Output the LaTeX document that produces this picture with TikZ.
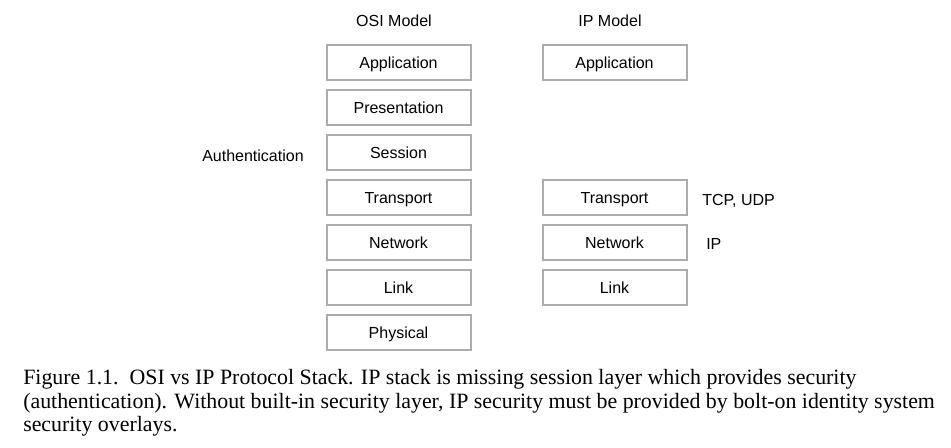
\documentclass[tikz,border=0pt]{standalone}
\usepackage{fontspec}
\setmainfont{Liberation Sans}
\newfontfamily\capfont{Liberation Serif}
\usepackage{tikz}
\definecolor{boxgray}{RGB}{172, 172, 172}

\begin{document}
\begin{tikzpicture}[x=0.75pt, y=-0.75pt,
    layer/.style={draw=boxgray, line width=1.5pt, minimum width=108pt, minimum height=26.25pt, inner sep=0pt, text height=8.6pt, text depth=0pt, font=\fontsize{12}{14}\selectfont},
    tag/.style={inner sep=0pt, text height=8.6pt, text depth=0pt, font=\fontsize{12}{14}\selectfont},
    capline/.style={inner sep=0pt, anchor=base west, font=\capfont\fontsize{16.4}{18}\selectfont}]
        \useasboundingbox (0,0) rectangle (951,447);

        % 标题
        \node[tag] (osititle) at (394, 21) {OSI Model};
        \node[tag] (iptitle) at (610, 21) {IP Model};

        % OSI 模型
        \node[layer] (osiapp) at (398.5, 62.5) {Application};
        \node[layer] (osipres) at (398.5, 107.5) {Presentation};
        \node[layer] (osises) at (398.5, 152.5) {Session};
        \node[layer] (ositrans) at (398.5, 197.5) {Transport};
        \node[layer] (osinet) at (398.5, 242.5) {Network};
        \node[layer] (osilink) at (398.5, 287.5) {Link};
        \node[layer] (osiphys) at (398.5, 332.5) {Physical};

        % IP 模型
        \node[layer] (ipapp) at (614.5, 62.5) {Application};
        \node[layer] (iptrans) at (614.5, 197.5) {Transport};
        \node[layer] (ipnet) at (614.5, 242.5) {Network};
        \node[layer] (iplink) at (614.5, 287.5) {Link};

        % 旁注
        \node[tag, anchor=west] (auth) at (202, 156) {Authentication};
        \node[tag, anchor=west] (tcpudp) at (702, 200) {TCP, UDP};
        \node[tag, anchor=west] (ipproto) at (706, 244) {IP};

        % 图注
        \node[capline] (cap1) at (23, 384) {Figure 1.1.\ \ OSI vs IP Protocol Stack. IP stack is missing session layer which provides security};
        \node[capline] (cap2) at (23, 408) {(authentication). Without built-in security layer, IP security must be provided by bolt-on identity system};
        \node[capline] (cap3) at (23, 431) {security overlays.};
    \end{tikzpicture}
\end{document}
